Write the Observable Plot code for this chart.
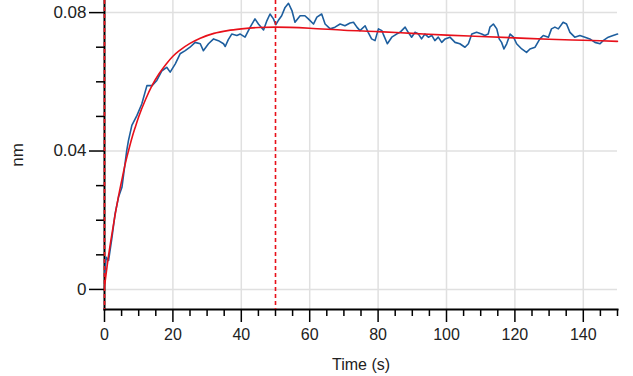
<!DOCTYPE html>
<html><head><meta charset="utf-8">
<script src="https://cdn.jsdelivr.net/npm/d3@7"></script>
<script src="https://cdn.jsdelivr.net/npm/@observablehq/plot@0.6"></script>
<style>body{margin:0;background:#fff;overflow:hidden;}</style>
</head><body><div id="chart"></div>
<script>
// Measured response (blue)
const blueTime = [0, 0.5, 1.2, 2.2, 3.1, 4.1, 5.1, 6.5, 7.0, 8.0, 9.5, 10.9, 12.4, 13.9, 15.3, 16.8, 18.2, 19.2, 20.7, 22.1, 23.6, 25.0, 26.5, 28.0, 28.9, 30.4, 31.9, 33.3, 34.8, 35.3, 36.2, 37.2, 38.7, 39.7, 41.1, 42.6, 44.0, 45.0, 46.5, 47.5, 48.4, 49.4, 50.1, 50.8, 51.8, 52.8, 53.8, 54.8, 55.7, 57.2, 58.6, 59.6, 61.1, 62.1, 63.5, 64.5, 66.0, 67.4, 68.9, 70.3, 71.8, 72.8, 73.8, 74.7, 76.2, 77.1, 78.1, 79.1, 80.1, 81.1, 81.5, 82.7, 84.0, 85.4, 86.4, 87.9, 88.8, 89.8, 90.8, 91.8, 92.7, 93.7, 94.7, 95.7, 96.6, 97.6, 98.6, 99.6, 101.0, 102.5, 103.9, 105.4, 106.4, 107.4, 108.8, 110.3, 111.2, 112.2, 112.7, 113.7, 114.7, 115.4, 116.1, 116.8, 117.6, 118.6, 119.6, 120.5, 122.0, 123.4, 124.4, 125.9, 127.3, 128.3, 129.8, 130.7, 131.7, 132.7, 134.1, 135.1, 136.1, 137.5, 139.0, 140.5, 141.9, 143.4, 144.9, 145.8, 147.3, 148.7, 150.0];
const blueValue = [0.0040, 0.0093, 0.0084, 0.0151, 0.0219, 0.0267, 0.0295, 0.0401, 0.0430, 0.0474, 0.0503, 0.0536, 0.0589, 0.0589, 0.0604, 0.0632, 0.0642, 0.0628, 0.0652, 0.0681, 0.0690, 0.0700, 0.0714, 0.0710, 0.0690, 0.0710, 0.0724, 0.0719, 0.0710, 0.0702, 0.0722, 0.0738, 0.0734, 0.0738, 0.0729, 0.0758, 0.0782, 0.0767, 0.0750, 0.0777, 0.0796, 0.0782, 0.0765, 0.0777, 0.0791, 0.0815, 0.0827, 0.0806, 0.0772, 0.0791, 0.0791, 0.0782, 0.0767, 0.0787, 0.0796, 0.0767, 0.0753, 0.0758, 0.0767, 0.0762, 0.0770, 0.0772, 0.0758, 0.0748, 0.0762, 0.0743, 0.0724, 0.0719, 0.0753, 0.0748, 0.0738, 0.0710, 0.0729, 0.0738, 0.0743, 0.0758, 0.0743, 0.0729, 0.0743, 0.0738, 0.0724, 0.0738, 0.0729, 0.0734, 0.0719, 0.0729, 0.0714, 0.0724, 0.0729, 0.0714, 0.0710, 0.0700, 0.0710, 0.0738, 0.0743, 0.0738, 0.0734, 0.0738, 0.0758, 0.0767, 0.0753, 0.0724, 0.0714, 0.0695, 0.0710, 0.0738, 0.0729, 0.0710, 0.0695, 0.0685, 0.0695, 0.0700, 0.0724, 0.0734, 0.0729, 0.0753, 0.0758, 0.0753, 0.0772, 0.0767, 0.0743, 0.0729, 0.0734, 0.0729, 0.0724, 0.0714, 0.0710, 0.0719, 0.0729, 0.0734, 0.0738];
// Fitted curve (red)
const fitTime = [0, 1, 2, 3, 4, 5, 6, 7, 8, 9, 10, 12, 14, 16, 18, 20, 22, 25, 28, 32, 36, 40, 45, 50, 60, 70, 80, 90, 100, 110, 120, 130, 140, 150];
const fitValue = [0.0008, 0.0085, 0.0150, 0.0210, 0.0264, 0.0313, 0.0360, 0.0400, 0.0437, 0.0469, 0.0499, 0.0549, 0.0591, 0.0624, 0.0651, 0.0674, 0.0691, 0.0711, 0.0726, 0.0740, 0.0748, 0.0753, 0.0757, 0.0758, 0.0755, 0.0749, 0.0745, 0.0740, 0.0735, 0.0731, 0.0727, 0.0723, 0.0720, 0.0717];
// Phase markers (association start, dissociation start)
const markerTimes = [0, 50];
// Ticks
const xMajorTicks = [0, 20, 40, 60, 80, 100, 120, 140];
const xMinorTicks = [5, 10, 15, 25, 30, 35, 45, 50, 55, 65, 70, 75, 85, 90, 95, 105, 110, 115, 125, 130, 135, 145, 150];
const xGridTicks = [20, 40, 60, 80, 100, 120, 140];
const yMajorTicks = [0, 0.04, 0.08];
const yMajorLabels = ["0", "0.04", "0.08"];
const yMinorTicks = [0.01, 0.02, 0.03, 0.05, 0.06, 0.07];

const blue = blueTime.map((t, i) => ({t, v: blueValue[i]}));
const fit = fitTime.map((t, i) => ({t, v: fitValue[i]}));

const chart = Plot.plot({
  width: 633, height: 376,
  marginTop: 0, marginLeft: 104, marginRight: 16, marginBottom: 67,
  style: {fontFamily: "'Liberation Sans', Arial, sans-serif", fontSize: "16px", color: "#222", background: "#fff"},
  x: {domain: [0, 150]},
  y: {domain: [-0.0058, 0.0835]},
  marks: [
    Plot.gridX(xGridTicks, {stroke: "#e0e0e0", strokeOpacity: 1, strokeWidth: 1.5}),
    Plot.gridY(yMajorTicks, {stroke: "#e0e0e0", strokeOpacity: 1, strokeWidth: 1.5}),
    Plot.axisX(xMinorTicks, {tickSize: 7, text: null, label: null, stroke: "#000", strokeWidth: 1.5}),
    Plot.axisX(xMajorTicks, {tickSize: 13, tickPadding: 6, fontSize: 16, stroke: "#000", strokeWidth: 1.5, label: "Time (s)", labelAnchor: "center", labelArrow: "none", labelOffset: 60}),
    Plot.axisY(yMinorTicks, {tickSize: 8, text: null, label: null, stroke: "#000", strokeWidth: 1.5}),
    Plot.axisY(yMajorTicks, {tickSize: 15, tickPadding: 3, fontSize: 17, stroke: "#000", strokeWidth: 1.5, tickFormat: d => yMajorLabels[yMajorTicks.indexOf(d)], label: "nm", labelAnchor: "center", labelArrow: "none", labelOffset: 94}),
    Plot.frame({anchor: "bottom", stroke: "#000", strokeWidth: 2}),
    Plot.frame({anchor: "left", stroke: "#000", strokeWidth: 2}),
    Plot.line(blue, {x: "t", y: "v", stroke: "#1d5e9e", strokeWidth: 1.6}),
    Plot.line(fit, {x: "t", y: "v", stroke: "#e8101a", strokeWidth: 1.6, curve: "monotone-x"}),
    Plot.ruleX(markerTimes, {stroke: "#e8101a", strokeDasharray: "4,3", strokeWidth: 1.6})
  ]
});
document.getElementById("chart").append(chart);
</script>
</body></html>
